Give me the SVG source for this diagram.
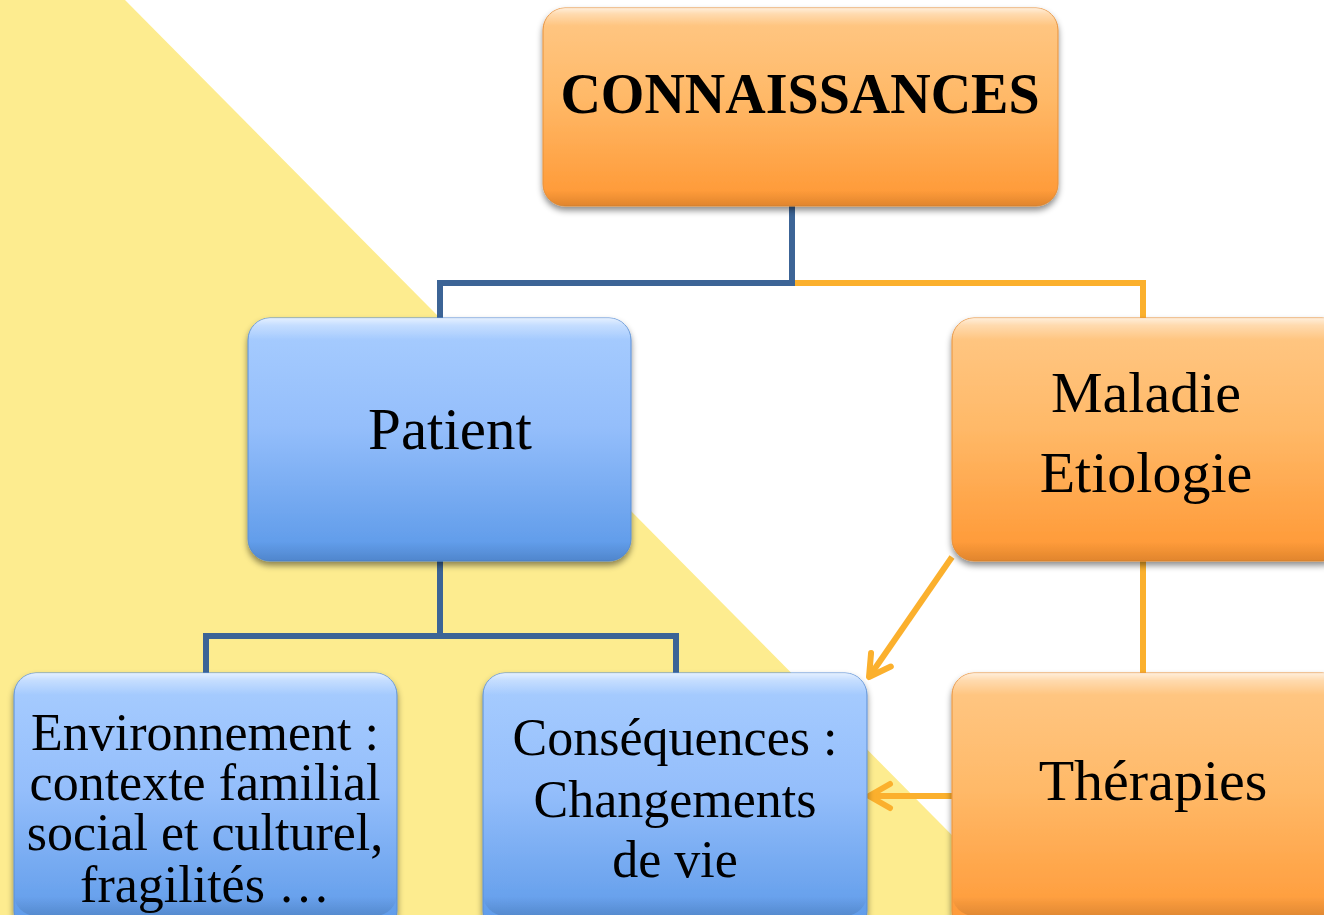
<svg xmlns="http://www.w3.org/2000/svg" width="1324" height="915" viewBox="0 0 1324 915">
<defs>
<linearGradient id="gOrange" x1="0" y1="0" x2="0" y2="1">
<stop offset="0" stop-color="#FFC886"/>
<stop offset="0.45" stop-color="#FFB968"/>
<stop offset="1" stop-color="#FF9733"/>
</linearGradient>
<linearGradient id="gBlue" x1="0" y1="0" x2="0" y2="1">
<stop offset="0" stop-color="#A8CDFF"/>
<stop offset="0.45" stop-color="#94BEFB"/>
<stop offset="1" stop-color="#5A98E8"/>
</linearGradient>
<linearGradient id="gShine" x1="0" y1="0" x2="0" y2="1">
<stop offset="0" stop-color="#FFFFFF" stop-opacity="0.7"/>
<stop offset="0.03" stop-color="#FFFFFF" stop-opacity="0.35"/>
<stop offset="0.09" stop-color="#FFFFFF" stop-opacity="0"/>
<stop offset="0.92" stop-color="#000000" stop-opacity="0"/>
<stop offset="1" stop-color="#000000" stop-opacity="0.12"/>
</linearGradient>
<filter id="shadow" x="-10%" y="-10%" width="120%" height="130%">
<feDropShadow dx="0" dy="4" stdDeviation="3" flood-color="#000000" flood-opacity="0.45"/>
</filter>
<marker id="chev" viewBox="-26 -16 30 32" refX="0" refY="0" markerWidth="30" markerHeight="32" markerUnits="userSpaceOnUse" orient="auto">
<path d="M -21 -12 L 0 0 L -21 12" fill="none" stroke="#FBB02D" stroke-width="6" stroke-linecap="round" stroke-linejoin="round"/>
</marker>
<style>
.txt { font-family: "Liberation Serif", "Times New Roman", serif; fill: #000000; text-anchor: middle; }
.orange { fill: url(#gOrange); stroke: #E8913A; stroke-width: 1; filter: url(#shadow); }
.blue { fill: url(#gBlue); stroke: #5A8FD6; stroke-width: 1; filter: url(#shadow); }
.shine { fill: url(#gShine); stroke: none; }
.cb { fill: none; stroke: #3C6496; stroke-width: 6; stroke-linejoin: miter; }
.co { fill: none; stroke: #FBB02D; stroke-width: 6; stroke-linejoin: miter; }
</style>
</defs>
<rect x="0" y="0" width="1324" height="915" fill="#FFFFFF"/>
<polygon points="0,0 125,0 1031,915 0,915" fill="#FDEC8F"/>

<g id="connectors">
<polyline class="cb" points="792,206 792,283 440,283 440,320"/>
<polyline class="co" points="795,283 1143,283 1143,320"/>
<polyline class="cb" points="440,560 440,636 206,636 206,675"/>
<polyline class="cb" points="440,636 676,636 676,675"/>
<line class="co" x1="1143" y1="560" x2="1143" y2="675"/>
<line class="co" x1="952" y1="557" x2="869" y2="677" marker-end="url(#chev)"/>
<line class="co" x1="953" y1="796" x2="869" y2="796" marker-end="url(#chev)"/>
</g>

<g id="node-connaissances">
<rect class="orange" x="543" y="8" width="515" height="198" rx="22"/>
<rect class="shine" x="543" y="8" width="515" height="198" rx="22"/>
<text class="txt" x="800" y="113" font-size="56" font-weight="bold">CONNAISSANCES</text>
</g>

<g id="node-patient">
<rect class="blue" x="248" y="318" width="383" height="243" rx="22"/>
<rect class="shine" x="248" y="318" width="383" height="243" rx="22"/>
<text class="txt" x="450" y="449" font-size="59">Patient</text>
</g>

<g id="node-maladie">
<rect class="orange" x="952" y="318" width="392" height="243" rx="22"/>
<rect class="shine" x="952" y="318" width="392" height="243" rx="22"/>
<text class="txt" x="1146" y="412" font-size="58">Maladie</text>
<text class="txt" x="1146" y="492" font-size="58">Etiologie</text>
</g>

<g id="node-environnement">
<rect class="blue" x="14" y="673" width="383" height="260" rx="22"/>
<rect class="shine" x="14" y="673" width="383" height="243" rx="22"/>
<text class="txt" x="205" y="750" font-size="52">Environnement :</text>
<text class="txt" x="205" y="800" font-size="52">contexte familial</text>
<text class="txt" x="205" y="850" font-size="52">social et culturel,</text>
<text class="txt" x="205" y="902" font-size="52">fragilités …</text>
</g>

<g id="node-consequences">
<rect class="blue" x="483" y="673" width="384" height="260" rx="22"/>
<rect class="shine" x="483" y="673" width="384" height="243" rx="22"/>
<text class="txt" x="675" y="755" font-size="52">Conséquences :</text>
<text class="txt" x="675" y="817" font-size="52">Changements</text>
<text class="txt" x="675" y="877" font-size="52">de vie</text>
</g>

<g id="node-therapies">
<rect class="orange" x="952" y="673" width="392" height="260" rx="22"/>
<rect class="shine" x="952" y="673" width="392" height="243" rx="22"/>
<text class="txt" x="1153" y="800" font-size="58">Thérapies</text>
</g>
</svg>
